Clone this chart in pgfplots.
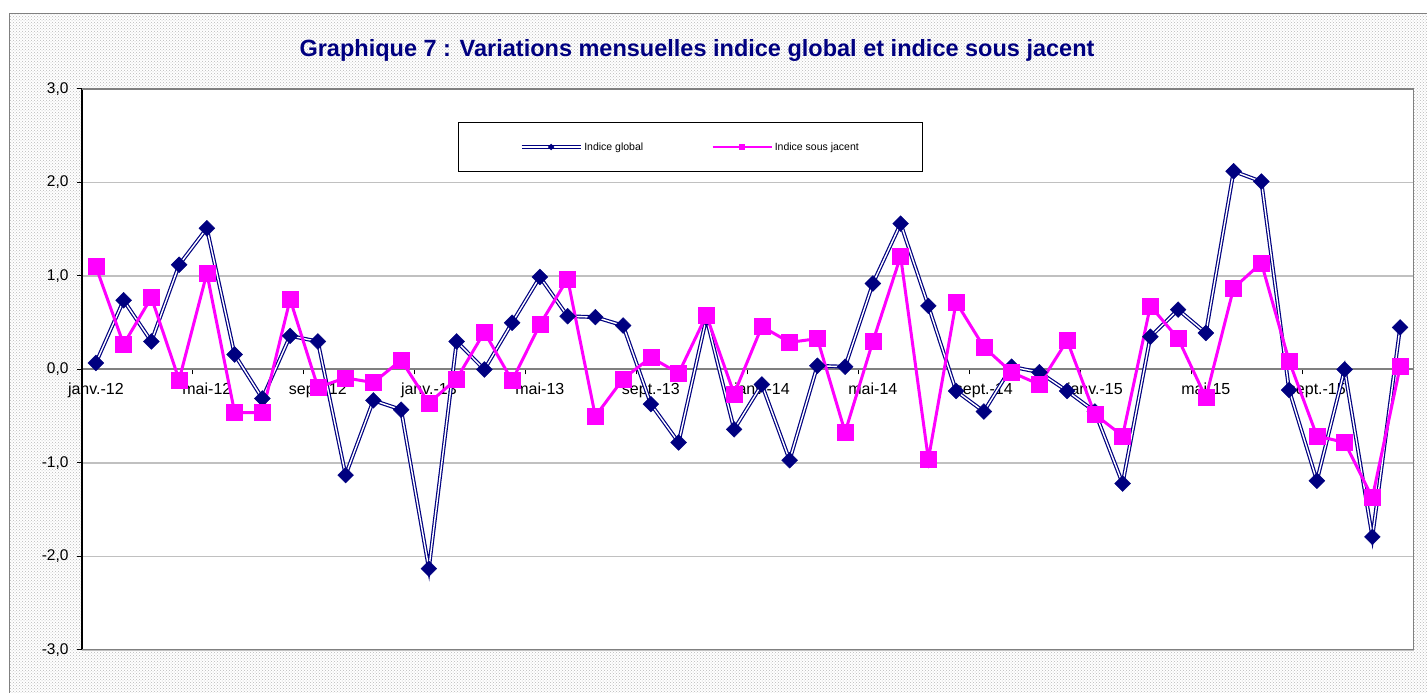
\documentclass[border=0pt]{standalone}
\usepackage{pgfplots}
\pgfplotsset{compat=1.18}
\usepackage{pgfplotstable}
\usepackage{fontspec}
\setmainfont{Liberation Sans}
\usetikzlibrary{patterns}
\definecolor{navy}{RGB}{0,0,128}
\definecolor{mag}{RGB}{255,0,255}
\definecolor{axgray}{RGB}{128,128,128}
\definecolor{gridgray}{RGB}{192,192,192}

\pgfplotstableread{
idx global sous
0 0.07 1.10
1 0.74 0.27
2 0.30 0.77
3 1.12 -0.11
4 1.51 1.03
5 0.16 -0.46
6 -0.31 -0.46
7 0.36 0.75
8 0.30 -0.19
9 -1.13 -0.09
10 -0.33 -0.14
11 -0.43 0.10
12 -2.13 -0.36
13 0.30 -0.10
14 0.00 0.40
15 0.50 -0.12
16 0.99 0.48
17 0.57 0.97
18 0.56 -0.50
19 0.47 -0.10
20 -0.37 0.13
21 -0.78 -0.04
22 0.55 0.58
23 -0.64 -0.26
24 -0.16 0.46
25 -0.97 0.29
26 0.04 0.33
27 0.03 -0.67
28 0.92 0.30
29 1.56 1.21
30 0.68 -0.96
31 -0.23 0.72
32 -0.45 0.24
33 0.03 -0.03
34 -0.03 -0.16
35 -0.23 0.31
36 -0.45 -0.48
37 -1.22 -0.71
38 0.35 0.68
39 0.64 0.33
40 0.39 -0.30
41 2.12 0.87
42 2.01 1.14
43 -0.22 0.09
44 -1.19 -0.71
45 0.00 -0.78
46 -1.79 -1.37
47 0.45 0.03
}\data

\begin{document}
\begin{tikzpicture}[x=1pt,y=1pt]
% axis box occupies (0,0)--(1332,561); page is (-82,-43)--(1345,650)
\useasboundingbox (-82,-43) rectangle (1345,650);
\fill[white] (-82,-43) rectangle (1345,650);
\fill[pattern=crosshatch dots, pattern color=gray!55] (-72,-50) rectangle (1360,636);
\draw[axgray, line width=1pt] (-72,-50) -- (-72,636) -- (1360,636);
\node[font=\fontsize{23.5}{27}\selectfont\bfseries, text=navy] at (615,600) {Graphique 7 : Variations mensuelles indice global et indice sous jacent};
\begin{axis}[
  scale only axis, width=1332pt, height=561pt,
  xmin=-0.5, xmax=47.5, ymin=-3, ymax=3,
  axis background/.style={fill=white},
  axis x line*=middle, axis y line*=left,
  hide obscured x ticks=false, hide obscured y ticks=false,
  x axis line style={axgray, line width=2pt},
  y axis line style={black, line width=1.6pt},
  ytick={-3,-2,-1,0,1,2,3},
  ymajorgrids, grid style={gridgray, line width=1.3pt},
  major tick length=5pt,
  ytick align=outside,
  xtick align=outside,
  ytick style={black, line width=1pt},
  xtick style={black, line width=1pt},
  xtick={-0.5,3.5,7.5,11.5,15.5,19.5,23.5,27.5,31.5,35.5,39.5,43.5,47.5},
  xticklabels={{},{},{},{},{},{},{},{},{},{},{},{},{}},
  extra x ticks={0,4,8,12,16,20,24,28,32,36,40,44},
  extra x tick labels={janv.-12,mai-12,sept.-12,janv.-13,mai-13,sept.-13,janv.-14,mai-14,sept.-14,janv.-15,mai-15,sept.-15},
  extra x tick style={major tick length=0pt, xmajorgrids=false},
  xticklabel style={font=\fontsize{16}{18}\selectfont, text=black, yshift=-10pt},
  yticklabel style={font=\fontsize{15.5}{17}\selectfont, text=black, xshift=-5pt},
  /pgf/number format/assume math mode=true,
  yticklabel={\pgfmathprintnumber[fixed, fixed zerofill, precision=1, use comma]{\tick}},
  legend columns=2,
  legend style={at={(rel axis cs:0.4568,0.8966)}, anchor=center, draw=black, line width=1pt,
    fill=white, font=\fontsize{10.5}{12}\selectfont, inner xsep=62pt, inner ysep=17.5pt,
    /tikz/every even column/.append style={column sep=66pt}},
]
\addlegendimage{legend image code/.code={
  \draw[navy, line width=0.9pt, double=white, double distance=1.4pt] (0pt,0pt) -- (59pt,0pt);
  \draw[navy, mark=square*, mark options={rotate=45, fill=navy, draw=navy}, mark size=1.8pt] plot coordinates {(29.5pt,0pt)};
}}
\addlegendentry{Indice global}
\addlegendimage{legend image code/.code={
  \draw[mag, line width=2.6pt] (0pt,0pt) -- (59pt,0pt);
  \draw[mag, mark=square*, mark options={fill=mag, draw=mag}, mark size=2.5pt] plot coordinates {(29.5pt,0pt)};
}}
\addlegendentry{Indice sous jacent}

\addplot[navy, line width=1.2pt, double=white, double distance=1.4pt, no markers, forget plot] table[x=idx, y=global] {\data};
\addplot[only marks, mark=square*, mark options={rotate=45, fill=navy, draw=navy}, mark size=5.6pt, forget plot] table[x=idx, y=global] {\data};
\addplot[mag, line width=3pt, mark=square*, mark options={fill=mag, draw=mag, line width=0.5pt}, mark size=8pt, forget plot] table[x=idx, y=sous] {\data};

\draw[axgray, line width=2pt] (rel axis cs:0,1) -- (rel axis cs:1,1) -- (rel axis cs:1,0) -- (rel axis cs:0,0);
\end{axis}
\end{tikzpicture}
\end{document}
